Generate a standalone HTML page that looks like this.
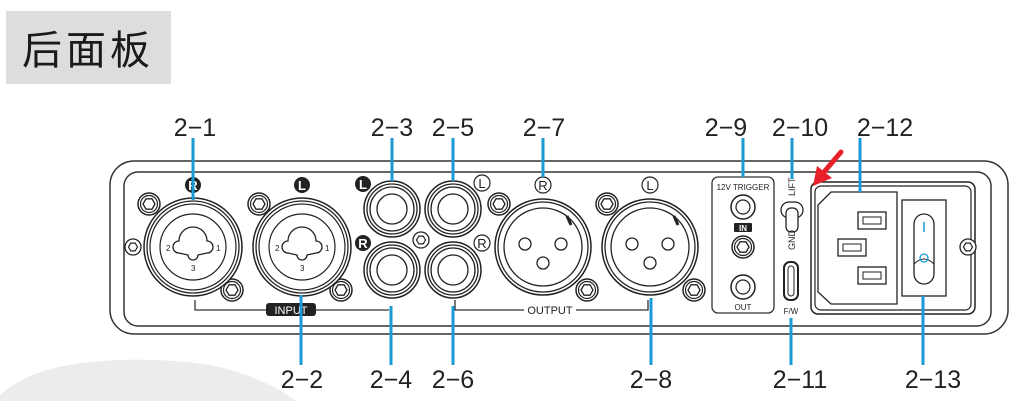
<!DOCTYPE html>
<html><head><meta charset="utf-8"><style>
html,body{margin:0;padding:0;background:#fff;width:1029px;height:401px;overflow:hidden;}
svg{display:block;}
.lbl{font-family:"Liberation Sans",sans-serif;font-size:25px;fill:#222;}
</style></head><body>
<svg width="1029" height="401" viewBox="0 0 1029 401" overflow="hidden" xmlns="http://www.w3.org/2000/svg">
<defs>
<g id="scr"><circle r="11" fill="#fff" stroke="#222" stroke-width="1.5"/><circle r="8.5" fill="none" stroke="#222" stroke-width="1.2"/><polygon points="6,0 3,5.2 -3,5.2 -6,0 -3,-5.2 3,-5.2" fill="none" stroke="#222" stroke-width="1.3"/></g>
<g id="scrs"><circle r="8" fill="#fff" stroke="#222" stroke-width="1.3"/><polygon points="4.5,0 2.2,3.9 -2.2,3.9 -4.5,0 -2.2,-3.9 2.2,-3.9" fill="none" stroke="#222" stroke-width="1.2"/></g>
<g id="rca"><circle r="28" fill="#fff" stroke="#222" stroke-width="1.5"/><circle r="25" fill="none" stroke="#222" stroke-width="1.3"/><circle r="22" fill="none" stroke="#222" stroke-width="1.3"/><circle r="15" fill="none" stroke="#222" stroke-width="1.3"/></g>
<g id="combo"><circle r="49" fill="#fff" stroke="#222" stroke-width="1.5"/><circle r="46" fill="none" stroke="#222" stroke-width="1.3"/><circle r="43" fill="none" stroke="#222" stroke-width="1.2"/><circle r="33" fill="none" stroke="#222" stroke-width="1.2"/>
<path d="M-14,-6 A14,14 0 0 1 14,-6 A5,5 0 1 1 14,6 L5,8 A5,5 0 0 1 -5,8 L-14,6 A5,5 0 1 1 -14,-6 Z" fill="none" stroke="#222" stroke-width="1.3"/>
<text x="-27" y="4" font-size="8" font-family="Liberation Sans" fill="#222">2</text><text x="23" y="4" font-size="8" font-family="Liberation Sans" fill="#222">1</text><text x="-2" y="24" font-size="8" font-family="Liberation Sans" fill="#222">3</text></g>
<g id="xlr"><circle r="48" fill="#fff" stroke="#222" stroke-width="1.5"/><circle r="45" fill="none" stroke="#222" stroke-width="1.3"/><circle r="39" fill="none" stroke="#222" stroke-width="1.3"/><path d="M24,-31 L28,-22" stroke="#222" stroke-width="3"/><circle cx="-18" cy="-3" r="6" fill="none" stroke="#222" stroke-width="1.3"/><circle cx="18" cy="-3" r="6" fill="none" stroke="#222" stroke-width="1.3"/><circle cx="0" cy="16" r="6" fill="none" stroke="#222" stroke-width="1.3"/></g>
</defs>
<path d="M0,401 V395 Q30,368 90,362 Q150,356 210,365 Q260,375 296,401 Z" fill="#ececec"/>
<rect x="6" y="11" width="165" height="73" fill="#dddddd"/>
<text x="22" y="64" font-family="'Noto Sans CJK SC',sans-serif" font-size="40" fill="#1a1a1a" letter-spacing="4">后面板</text>
<rect x="110" y="161" width="898" height="173" rx="24" fill="#fff" stroke="#333" stroke-width="1.5"/>
<rect x="124" y="172" width="867" height="154" rx="14" fill="none" stroke="#333" stroke-width="1.5"/>
<use href="#scrs" x="133" y="247"/>
<use href="#scr" x="149" y="204"/><use href="#scr" x="259" y="204"/><use href="#scr" x="232" y="290"/><use href="#scr" x="341" y="290"/>
<use href="#combo" x="193" y="247"/><use href="#combo" x="302" y="247"/>
<circle cx="193" cy="185" r="8" fill="#222"/><text x="193" y="190" text-anchor="middle" font-family="Liberation Sans" font-weight="bold" font-size="13" fill="#fff">R</text>
<circle cx="302" cy="185" r="8" fill="#222"/><text x="302" y="190" text-anchor="middle" font-family="Liberation Sans" font-weight="bold" font-size="13" fill="#fff">L</text>
<path d="M195,300 V310 H389" fill="none" stroke="#333" stroke-width="1.3"/>
<rect x="266" y="303" width="50" height="13" rx="3" fill="#222"/><text x="291" y="314" text-anchor="middle" font-family="Liberation Sans" font-size="11" fill="#fff">INPUT</text>
<use href="#scrs" x="421" y="240"/>
<use href="#rca" x="392" y="209"/><use href="#rca" x="453" y="209"/><use href="#rca" x="392" y="270"/><use href="#rca" x="453" y="270"/>
<circle cx="363" cy="184" r="8" fill="#222"/><text x="363" y="189" text-anchor="middle" font-family="Liberation Sans" font-weight="bold" font-size="13" fill="#fff">L</text>
<circle cx="363" cy="243" r="8" fill="#222"/><text x="363" y="248" text-anchor="middle" font-family="Liberation Sans" font-weight="bold" font-size="13" fill="#fff">R</text>
<circle cx="482" cy="183" r="8" fill="#fff" stroke="#222" stroke-width="1.2"/><text x="482" y="188" text-anchor="middle" font-family="Liberation Sans" font-size="13" fill="#222">L</text>
<circle cx="482" cy="243" r="8" fill="#fff" stroke="#222" stroke-width="1.2"/><text x="482" y="248" text-anchor="middle" font-family="Liberation Sans" font-size="13" fill="#222">R</text>
<use href="#scr" x="499" y="204"/><use href="#scr" x="607" y="204"/><use href="#scr" x="587" y="290"/><use href="#scr" x="694" y="290"/>
<use href="#xlr" x="543" y="247"/><use href="#xlr" x="650" y="247"/>
<circle cx="543" cy="185" r="8" fill="#fff" stroke="#222" stroke-width="1.2"/><text x="543" y="190" text-anchor="middle" font-family="Liberation Sans" font-size="13" fill="#222">R</text>
<circle cx="650" cy="185" r="8" fill="#fff" stroke="#222" stroke-width="1.2"/><text x="650" y="190" text-anchor="middle" font-family="Liberation Sans" font-size="13" fill="#222">L</text>
<path d="M455,300 V310 H524 M576,310 H648 V300" fill="none" stroke="#333" stroke-width="1.3"/>
<text x="550" y="314" text-anchor="middle" font-family="Liberation Sans" font-size="11" fill="#222">OUTPUT</text>
<rect x="712" y="177" width="62" height="136" rx="6" fill="none" stroke="#333" stroke-width="1.3"/>
<text x="743" y="190" text-anchor="middle" font-family="Liberation Sans" font-size="8" fill="#222">12V TRIGGER</text>
<circle cx="743" cy="207" r="12" fill="none" stroke="#222" stroke-width="1.5"/><circle cx="743" cy="207" r="7" fill="none" stroke="#222" stroke-width="1.2"/>
<rect x="734" y="223" width="18" height="9" rx="1" fill="#222"/><text x="743" y="231" text-anchor="middle" font-family="Liberation Sans" font-weight="bold" font-size="8" fill="#fff">IN</text>
<use href="#scr" x="743" y="247"/>
<circle cx="743" cy="287" r="12" fill="none" stroke="#222" stroke-width="1.5"/><circle cx="743" cy="287" r="7" fill="none" stroke="#222" stroke-width="1.2"/>
<text x="743" y="310" text-anchor="middle" font-family="Liberation Sans" font-size="8" fill="#222">OUT</text>
<text x="0" y="0" transform="translate(795,196) rotate(-90)" font-family="Liberation Sans" font-size="9" fill="#222">LIFT</text>
<rect x="781" y="202" width="22" height="16" rx="8" fill="none" stroke="#222" stroke-width="1.3"/>
<rect x="786" y="208" width="12" height="24" rx="5" fill="#fff" stroke="#222" stroke-width="1.3"/>
<text x="0" y="0" transform="translate(795,250) rotate(-90)" font-family="Liberation Sans" font-size="9" fill="#222">GND</text>
<rect x="784" y="262" width="14" height="38" rx="6" fill="#fff" stroke="#222" stroke-width="2"/><rect x="788" y="266" width="6" height="30" rx="3" fill="none" stroke="#222" stroke-width="1"/>
<text x="791" y="314" text-anchor="middle" font-family="Liberation Sans" font-size="8" fill="#222">F/W</text>
<rect x="811" y="182" width="164" height="132" rx="7" fill="none" stroke="#222" stroke-width="1.5"/>
<rect x="815" y="186" width="156" height="124" rx="6" fill="none" stroke="#222" stroke-width="1.2"/>
<path d="M831,192 H897 V304 H831 L818,292 V205 Z" fill="none" stroke="#222" stroke-width="1.3"/>
<rect x="858" y="212" width="28" height="17" fill="none" stroke="#222" stroke-width="1.3"/><rect x="863" y="217" width="18" height="7" fill="none" stroke="#222"/>
<rect x="838" y="239" width="28" height="17" fill="none" stroke="#222" stroke-width="1.3"/><rect x="843" y="244" width="18" height="7" fill="none" stroke="#222"/>
<rect x="858" y="267" width="28" height="17" fill="none" stroke="#222" stroke-width="1.3"/><rect x="863" y="272" width="18" height="7" fill="none" stroke="#222"/>
<rect x="902" y="200" width="44" height="96" fill="none" stroke="#222" stroke-width="1.3"/>
<rect x="914" y="214" width="20" height="70" rx="10" fill="none" stroke="#222" stroke-width="1.3"/>
<path d="M914,264 Q924,254 934,264" fill="none" stroke="#222" stroke-width="1"/>
<line x1="924" y1="222" x2="924" y2="232" stroke="#1a9ad6" stroke-width="1.5"/>
<circle cx="924" cy="258" r="4" fill="none" stroke="#1a9ad6" stroke-width="1.3"/>
<use href="#scrs" x="968" y="247"/>
<path d="M841,152 L824,172" stroke="#e8202a" stroke-width="5" stroke-linecap="round"/>
<polygon points="813,186 817,166 832,178" fill="#e8202a"/>
<g stroke="#1a9ad6" stroke-width="3">
<line x1="193" y1="138" x2="193" y2="200"/>
<line x1="392" y1="138" x2="392" y2="181"/>
<line x1="453" y1="138" x2="453" y2="181"/>
<line x1="543" y1="138" x2="543" y2="177"/>
<line x1="743" y1="138" x2="743" y2="177"/>
<line x1="792" y1="138" x2="792" y2="179"/>
<line x1="860" y1="138" x2="860" y2="192"/>
<line x1="301" y1="295" x2="301" y2="365"/>
<line x1="391" y1="306" x2="391" y2="365"/>
<line x1="453" y1="306" x2="453" y2="365"/>
<line x1="651" y1="298" x2="651" y2="365"/>
<line x1="791" y1="318" x2="791" y2="365"/>
<line x1="923" y1="296" x2="923" y2="365"/>
</g>
<g class="lbl" text-anchor="middle">
<text x="195" y="136">2−1</text>
<text x="392" y="136">2−3</text>
<text x="453" y="136">2−5</text>
<text x="544" y="136">2−7</text>
<text x="726" y="136">2−9</text>
<text x="800" y="136">2−10</text>
<text x="885" y="136">2−12</text>
<text x="302" y="388">2−2</text>
<text x="391" y="388">2−4</text>
<text x="453" y="388">2−6</text>
<text x="651" y="388">2−8</text>
<text x="800" y="388">2−11</text>
<text x="933" y="388">2−13</text>
</g>
</svg>
</body></html>
